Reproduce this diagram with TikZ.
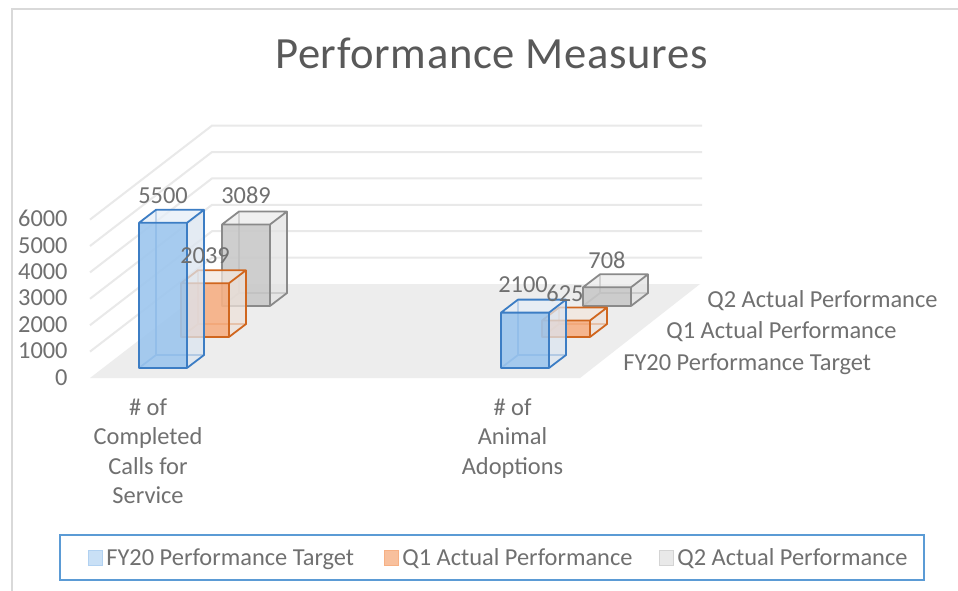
\documentclass[tikz,border=0pt]{standalone}
\usepackage{fontspec}
\setmainfont{Carlito}
\definecolor{txt}{HTML}{707070}
\definecolor{ttl}{HTML}{595959}
\definecolor{grid}{HTML}{E9E9E9}
\definecolor{floorc}{HTML}{EDEDED}
\definecolor{frame}{HTML}{D9D9D9}
\definecolor{legbox}{HTML}{5B9BD5}
\definecolor{bFront}{HTML}{9DC6EE}
\definecolor{bSide}{HTML}{DCE5F0}
\definecolor{bTop}{HTML}{E6EEF7}
\definecolor{bEdge}{HTML}{3C7DC4}
\definecolor{oFront}{HTML}{F6B084}
\definecolor{oSide}{HTML}{EEE2DA}
\definecolor{oTop}{HTML}{F3E7DE}
\definecolor{oEdge}{HTML}{D0661E}
\definecolor{gFront}{HTML}{C9C9C9}
\definecolor{gSide}{HTML}{E3E3E3}
\definecolor{gTop}{HTML}{EBEBEB}
\definecolor{gEdge}{HTML}{8A8A8A}
\tikzset{
  lbl/.style={text=txt, font=\fontsize{12.2}{14.7}\selectfont, inner sep=0pt},
  axlbl/.style={lbl, anchor=base east},
  gridline/.style={draw=grid, line width=1pt},
}
% #1 x, #2 y of front-left-bottom corner (px), #3 height (px), #4 colour prefix
\newcommand\drawbox[4]{%
  \coordinate (A) at (#1,#2);
  \coordinate (B) at ({#1+48},#2);
  \coordinate (C) at ({#1+48},{#2-#3});
  \coordinate (D) at (#1,{#2-#3});
  \coordinate (A2) at ({#1+17},{#2-13});
  \coordinate (B2) at ({#1+65},{#2-13});
  \coordinate (C2) at ({#1+65},{#2-13-#3});
  \coordinate (D2) at ({#1+17},{#2-13-#3});
  \draw[#4Edge, line width=0.9pt] (A) -- (A2) -- (B2) (A2) -- (D2);
  \fill[#4Side, fill opacity=0.75] (B) -- (B2) -- (C2) -- (C) -- cycle;
  \fill[#4Top, fill opacity=0.75] (D) -- (C) -- (C2) -- (D2) -- cycle;
  \fill[#4Front, fill opacity=0.9] (A) -- (B) -- (C) -- (D) -- cycle;
  \draw[#4Edge, line width=0.9pt, line join=round] (A) -- (B) -- (C) -- (D) -- cycle
     (B) -- (B2) -- (C2) -- (D2) -- (D) (C) -- (C2);
}
\begin{document}
\begin{tikzpicture}[x=0.5pt, y=-0.5pt]
\useasboundingbox (0,0) rectangle (958,590);
\fill[white] (0,0) rectangle (958,590);
% outer chart frame
\draw[frame, line width=1pt] (12,595) -- (12,9) -- (965,9);
% title
\node[text=ttl, font=\addfontfeatures{LetterSpace=1.5}\fontsize{22.3}{26}\selectfont, anchor=base, inner sep=0pt] (title) at (491.5,68) {Performance Measures};
% floor
\fill[floorc] (90,378) -- (580,378) -- (700,284) -- (212,284) -- cycle;
% grid lines (left wall and back wall)
\foreach \i in {1,...,6} {
  \draw[gridline] (90,{378-26.4*\i}) -- (212,{284-26.4*\i}) -- (702,{284-26.4*\i});
}
% value axis labels
\foreach \v [count=\i from 0] in {0,1000,2000,3000,4000,5000,6000} {
  \node[axlbl] (ax\i) at (68,{385-26.4*\i}) {\v};
}
% bars: back row first
\drawbox{222}{306}{81.5}{g}
\drawbox{583}{306}{18.7}{g}
\drawbox{181}{337}{53.8}{o}
\drawbox{542}{337}{16.5}{o}
\drawbox{139}{368}{145.2}{b}
\drawbox{501}{368}{55.4}{b}
% data labels
\node[lbl, anchor=base] (l5500) at (163,203) {5500};
\node[lbl, anchor=base] (l3089) at (246,203) {3089};
\node[lbl, anchor=base] (l2039) at (205,263) {2039};
\node[lbl, anchor=base] (l2100) at (523,292) {2100};
\node[lbl, anchor=base] (l625) at (565,301) {625};
\node[lbl, anchor=base] (l708) at (607,268) {708};
% depth axis labels
\node[lbl, anchor=base west] (dq2) at (707,307.5) {Q2 Actual Performance};
\node[lbl, anchor=base west] (dq1) at (666,338.5) {Q1 Actual Performance};
\node[lbl, anchor=base west] (dfy) at (623,370.5) {FY20 Performance Target};
% category labels
\node[lbl, anchor=base] (c1a) at (148,415) {\# of};
\node[lbl, anchor=base] (c1b) at (148,444.5) {Completed};
\node[lbl, anchor=base] (c1c) at (148,474) {Calls for};
\node[lbl, anchor=base] (c1d) at (148,503) {Service};
\node[lbl, anchor=base] (c2a) at (512.5,415) {\# of};
\node[lbl, anchor=base] (c2b) at (512.5,444.5) {Animal};
\node[lbl, anchor=base] (c2c) at (512.5,474) {Adoptions};
% legend
\draw[legbox, line width=1pt] (60,535) rectangle (924,580);
\draw[fill=bFront!55!white, draw=bFront!80!white, line width=0.5pt] (88,550) rectangle (102,565);
\node[lbl, anchor=base west] (leg1) at (106,565) {FY20 Performance Target};
\draw[fill=oFront!80!white, draw=oFront, line width=0.5pt] (384,550) rectangle (398,565);
\node[lbl, anchor=base west] (leg2) at (402,565) {Q1 Actual Performance};
\draw[fill=gFront!40!white, draw=gFront!80!white, line width=0.5pt] (659,550) rectangle (673,565);
\node[lbl, anchor=base west] (leg3) at (677,565) {Q2 Actual Performance};
\end{tikzpicture}
\end{document}
